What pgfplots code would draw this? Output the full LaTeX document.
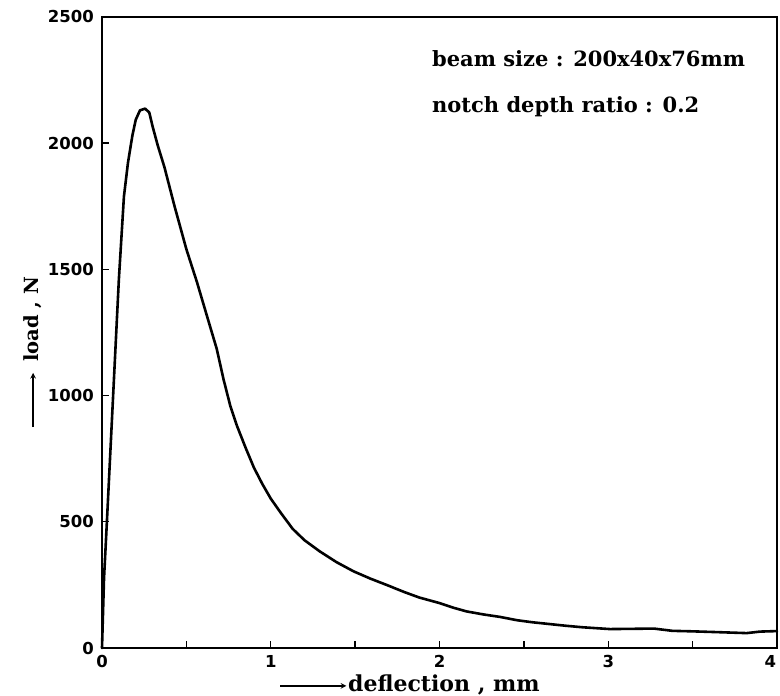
\documentclass[border=0pt]{standalone}
\usepackage{fontspec}
\usepackage{pgfplots}
\pgfplotsset{compat=1.18}
\newfontfamily\ticfont{DejaVu Sans}
\newfontfamily\labfont{DejaVu Serif}
\begin{document}
\begin{tikzpicture}
\useasboundingbox (-102bp,-48bp) rectangle (678bp,648bp);
\begin{axis}[
  at={(0,0)}, anchor=south west,
  scale only axis, width=675bp, height=631bp,
  xmin=0, xmax=4, ymin=0, ymax=2500,
  xtick={0,0.5,...,4}, xticklabels={0,,1,,2,,3,,\llap{4\hspace{1bp}}},
  ytick={0,500,1000,1500,2000,2500},
  tick pos=left, tick align=inside,
  major tick length=7bp,
  tick style={line width=1.4bp, black},
  axis line style={line width=1.8bp, black},
  /pgf/number format/assume math mode=true,
  scaled ticks=false,
  yticklabel={\pgfmathprintnumber[fixed,precision=0,1000 sep={}]{\tick}},
  ticklabel style={font=\fontsize{16.5bp}{18bp}\ticfont\bfseries},
  yticklabel style={inner sep=0pt, xshift=-8bp},
  xticklabel style={inner sep=0pt, yshift=-7bp},
  clip=false,
]
\addplot[black, line width=2.6bp, line join=round, line cap=round] coordinates {
(0,0) (0.012,276) (0.03,513) (0.10,1461) (0.13,1789) (0.154,1923) (0.18,2030)
(0.20,2093) (0.225,2130) (0.255,2137) (0.28,2122) (0.30,2066) (0.33,1992)
(0.37,1905) (0.43,1750) (0.50,1580) (0.563,1449) (0.62,1320) (0.68,1185)
(0.72,1065) (0.76,960) (0.80,880) (0.85,795) (0.90,715) (0.95,650) (1.0,592)
(1.06,535) (1.13,472) (1.20,427) (1.29,383) (1.39,340) (1.49,304) (1.59,275)
(1.69,249) (1.79,222) (1.88,200) (2.0,178)
(2.08,160) (2.16,145) (2.26,133) (2.36,123) (2.46,110) (2.55,102) (2.65,95) (2.75,88) (2.85,82) (3.01,75)
(3.15,76) (3.27,77) (3.38,68) (3.50,66) (3.64,63) (3.82,59) (3.90,65) (4.0,67)
};
\node[anchor=base west, inner sep=0pt, font=\fontsize{21bp}{24bp}\labfont\bfseries]
  at (rel axis cs:0.4889,0.9208) {beam size : 200x40x76mm};
\node[anchor=base west, inner sep=0pt, font=\fontsize{21bp}{24bp}\labfont\bfseries]
  at (rel axis cs:0.4889,0.8494) {notch depth ratio : 0.2};
\node[anchor=base west, inner sep=0pt, font=\fontsize{22bp}{24bp}\labfont\bfseries]
  at (rel axis cs:0.3644,-0.0697) {deflection , mm};
\draw[-stealth, line width=1.5bp] (rel axis cs:0.264,-0.060) -- (rel axis cs:0.362,-0.060);
\node[anchor=base west, rotate=90, inner sep=0pt, font=\fontsize{19.5bp}{22bp}\labfont\bfseries]
  at (rel axis cs:-0.0948,0.453) {load , N};
\draw[-stealth, line width=1.5bp] (rel axis cs:-0.102,0.350) -- (rel axis cs:-0.102,0.436);
\end{axis}
\end{tikzpicture}
\end{document}
